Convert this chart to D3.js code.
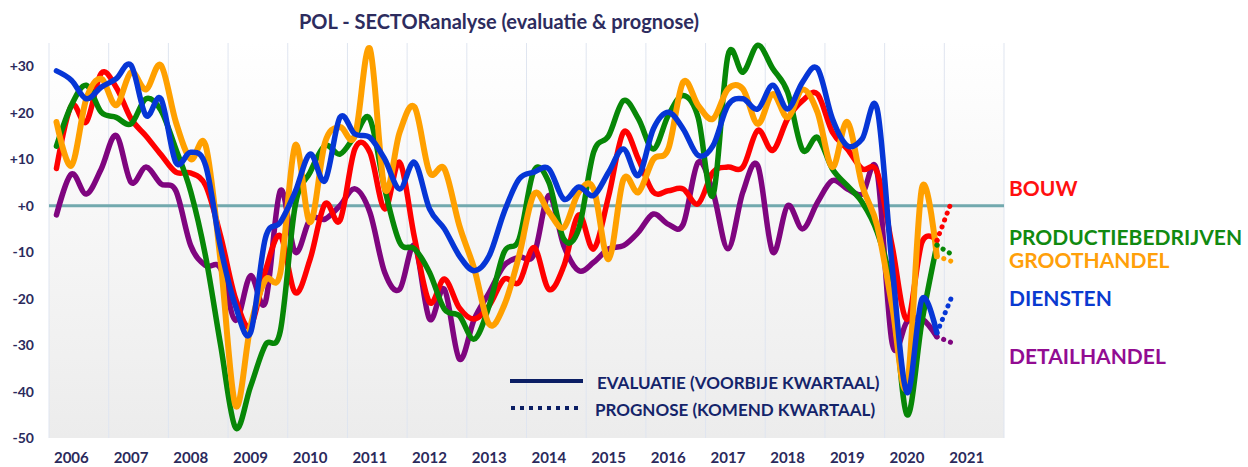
<!DOCTYPE html>
<html>
<head>
<meta charset="utf-8">
<script src="https://cdn.jsdelivr.net/npm/d3@7"></script>
<style>
  body { margin: 0; background: #fff; }
  svg { display: block; font-family: Lato, "Open Sans", sans-serif; font-weight: bold; }
</style>
</head>
<body>
<div id="chart"></div>
<script>
// quarterly values, 2006 Q1 .. 2020 Q4 (evaluatie) + 2021 Q1 (prognose)
const firstYear = 2006;
const yearLabels = ["2006","2007","2008","2009","2010","2011","2012","2013","2014","2015","2016","2017","2018","2019","2020","2021"];
const yTicks = [30, 20, 10, 0, -10, -20, -30, -40, -50];

const bouw = [8, 21.5, 18, 28.5, 25.5, 18.7, 15, 11, 7.2, 7, 4.3, -6.5, -20, -26, -14, -6.5,
  -18.7, -11.5, 0.4, -3.2, 12.2, 11.5, -0.7, 9.3, -7, -20.8, -15.8, -22, -24.4, -21.5, -15.8, -16.5,
  -9, -18, -13, -2, -9.3, 2, 15.8, 10, 2.9, 3.2, 3.6, 0.4, 7.2, 8.3, 8.3, 16.2,
  11.9, 18.7, 22.6, 24, 15.8, 12.2, 7.9, 7.2, -8.6, -24.5, -7.9, -7.5];
const productie = [12.8, 21.6, 25.9, 20.1, 19, 17.6, 23, 20.5, 12.2, 3, -11, -30, -47.8, -39, -30, -27,
  0, 7.2, 12.9, 11.1, 15, 18.7, 3.6, -7.9, -9.3, -14.4, -22.3, -23.7, -28.7, -21.5, -10, -7.2,
  7.5, 5, -7.2, -5, 11.5, 15, 22.6, 18.7, 12.2, 19.4, 23.7, 19, 2.2, 32.3, 28.7, 34.5,
  29.5, 24.4, 12, 14.7, 7.9, 4.3, 0.7, -5.7, -18, -45, -25, -8.5];
const groothandel = [18, 8.6, 23, 27.3, 21.6, 28.7, 25, 30.2, 18, 10, 12.9, -12, -43, -26, -16, -14.5,
  13, -3.6, 13.6, 16.9, 15, 33.8, 3.6, 15.8, 21.2, 7.2, 7.9, -4.3, -13.6, -25.5, -21.5, -10.8,
  2.5, -1.4, -4.7, 2.9, 3.6, -11.5, 5.7, 2.9, 10, 12.2, 26.6, 21.6, 18.7, 25.1, 25.1, 17.6,
  24, 19, 25, 20.1, 8.3, 18, 4.3, -4.3, -21.5, -38.8, 3.8, -10.9];
const diensten = [29, 27, 23, 25.5, 27.3, 30.2, 19.4, 23, 9.3, 11.5, 8.6, -9, -21.6, -27.4, -7, -3.6,
  3, 11.1, 5.4, 19, 15.4, 14.7, 10, 3.6, 9.3, -0.7, -5, -10.8, -14, -10.8, -1.4, 5.7,
  7.2, 7.9, 1.4, 4, 2.2, 7.2, 12.2, 6.5, 16.5, 20.1, 16.5, 10.8, 12.9, 21.6, 23, 20.8,
  25.9, 20.8, 26.6, 29.5, 18.7, 12.9, 14.4, 20.8, -12.9, -40.2, -20.1, -27.4];
const detailhandel = [-2, 6.8, 2.5, 7.9, 15.1, 5, 8.3, 4.7, 3.2, -8.6, -12.9, -13.5, -24.7, -15.1, -20.8, 3.2,
  -10, -2.9, -2.9, 0, 3.6, -1.4, -14.4, -18, -8.6, -24.4, -18, -33, -24.4, -18.7, -12.9, -11.1,
  -10.5, 2.2, -8.6, -14, -12.2, -9.3, -8.6, -5.7, -1.8, -4, -4, 9.3, 2.9, -9.3, 2.9, 8.6,
  -10, 0, -5, 0.7, 5.4, 3.6, 2.5, 7.2, -29.5, -25, -24.4, -28.2];
// prognose voor 2021 Q1
const prognose = [1, -10.5, -12, -19.6, -29.5];

const sectorNames = ["BOUW", "PRODUCTIEBEDRIJVEN", "GROOTHANDEL", "DIENSTEN", "DETAILHANDEL"];
const sectorValues = [bouw, productie, groothandel, diensten, detailhandel];
const lineColors = ["#ff0000", "#078707", "#ffa000", "#0636d6", "#7f057f"];
const labelColors = ["#ff1010", "#118a11", "#ffa00a", "#0a3ad0", "#920c92"];
const labelAt = [3.7, -6.9, -11.8, -20, -32.5];
const drawOrder = [4, 0, 1, 2, 3];

const width = 1248, height = 467;
const plot = { left: 49, right: 1004, top: 43, bottom: 438 };

const svg = d3.select("#chart").append("svg")
  .attr("width", width).attr("height", height)
  .attr("viewBox", `0 0 ${width} ${height}`);

const x = d3.scaleLinear().domain([firstYear, firstYear + 16]).range([plot.left, plot.right]);
const y = d3.scaleLinear().domain([-50, 35]).range([plot.bottom, plot.top]);
const qx = i => x(firstYear + i / 4 + 0.125);

// background gradient
const grad = svg.append("defs").append("linearGradient")
  .attr("id", "bg").attr("x1", 0).attr("y1", 0).attr("x2", 0).attr("y2", 1);
grad.append("stop").attr("offset", "0%").attr("stop-color", "#ffffff");
grad.append("stop").attr("offset", "100%").attr("stop-color", "#ececec");

svg.append("rect")
  .attr("x", plot.left).attr("y", plot.top)
  .attr("width", plot.right - plot.left).attr("height", plot.bottom - plot.top)
  .attr("fill", "url(#bg)");

// vertical grid
svg.append("g")
  .selectAll("line")
  .data(d3.range(firstYear, firstYear + 17))
  .join("line")
    .attr("x1", d => x(d)).attr("x2", d => x(d))
    .attr("y1", plot.top).attr("y2", plot.bottom)
    .attr("stroke", "#dfe5f0").attr("stroke-width", 1);

// zero line
svg.append("line")
  .attr("x1", plot.left).attr("x2", plot.right)
  .attr("y1", y(0)).attr("y2", y(0))
  .attr("stroke", "#72a9ae").attr("stroke-width", 3);

// y axis labels
svg.append("g")
  .selectAll("text")
  .data(yTicks)
  .join("text")
    .attr("x", 34).attr("y", d => y(d)).attr("dy", "0.36em")
    .attr("text-anchor", "end")
    .attr("font-size", 14).attr("fill", "#2b2a5c")
    .text(d => d < 0 ? String(d) : "+" + d);

// x axis labels
svg.append("g")
  .selectAll("text")
  .data(yearLabels)
  .join("text")
    .attr("x", (d, i) => x(firstYear + i + 0.375)).attr("y", 463)
    .attr("text-anchor", "middle")
    .attr("font-size", 15).attr("fill", "#2b2a5c")
    .text(d => d);

// title
svg.append("text")
  .attr("x", 499).attr("y", 29)
  .attr("text-anchor", "middle")
  .attr("font-size", 20).attr("fill", "#2d2c5e")
  .text("POL - SECTORanalyse (evaluatie & prognose)");

// lines
const line = d3.line()
  .x((d, i) => qx(i))
  .y(d => y(d))
  .curve(d3.curveCardinal.tension(0));

const lines = svg.append("g");
drawOrder.forEach(k => {
  lines.append("path")
    .datum(sectorValues[k])
    .attr("d", line)
    .attr("fill", "none")
    .attr("stroke", lineColors[k])
    .attr("stroke-width", k === 2 ? 6 : 5.5)
    .attr("stroke-linejoin", "round")
    .attr("stroke-linecap", "round");
});

// prognose dots
drawOrder.forEach(k => {
  const last = sectorValues[k].length - 1;
  lines.append("line")
    .attr("x1", qx(last)).attr("y1", y(sectorValues[k][last]))
    .attr("x2", qx(last + 1)).attr("y2", y(prognose[k]))
    .attr("stroke", lineColors[k])
    .attr("stroke-width", 5)
    .attr("stroke-linecap", "round")
    .attr("stroke-dasharray", "0.1 7.2");
});

// sector labels on the right
svg.append("g")
  .selectAll("text")
  .data(sectorNames)
  .join("text")
    .attr("x", 1009).attr("y", (d, i) => y(labelAt[i])).attr("dy", "0.36em")
    .attr("font-size", 21)
    .attr("fill", (d, i) => labelColors[i])
    .text(d => d);

// legend
const legend = svg.append("g");
legend.append("line")
  .attr("x1", 510).attr("x2", 583).attr("y1", 381).attr("y2", 381)
  .attr("stroke", "#0b1e64").attr("stroke-width", 4);
legend.append("line")
  .attr("x1", 511).attr("x2", 582).attr("y1", 408).attr("y2", 408)
  .attr("stroke", "#0b1e64").attr("stroke-width", 4)
  .attr("stroke-dasharray", "4 5");
legend.append("text")
  .attr("x", 597).attr("y", 389)
  .attr("font-size", 17).attr("fill", "#14246a")
  .text("EVALUATIE (VOORBIJE KWARTAAL)");
legend.append("text")
  .attr("x", 595).attr("y", 416)
  .attr("font-size", 17).attr("fill", "#14246a")
  .text("PROGNOSE (KOMEND KWARTAAL)");
</script>
</body>
</html>
